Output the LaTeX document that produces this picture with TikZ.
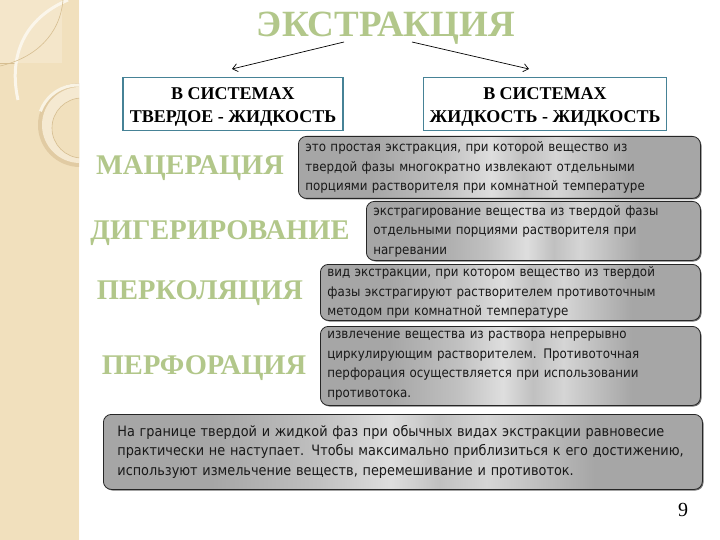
\documentclass[tikz,border=0pt]{standalone}
\usepackage{fontspec}
\setmainfont{Liberation Serif}
\newfontfamily\boxfont{DejaVu Sans Condensed}
\usetikzlibrary{arrows.meta}
\definecolor{tgreen}{RGB}{178,199,138}
\definecolor{band}{RGB}{241,224,189}
\definecolor{bandline}{RGB}{214,190,145}
\definecolor{tealb}{RGB}{70,130,150}
\definecolor{gedge}{RGB}{166,166,166}
\definecolor{gmid}{RGB}{192,192,192}
\definecolor{glight}{RGB}{222,222,222}
\pgfdeclarehorizontalshading{metal}{100bp}{color(0bp)=(gedge); color(25bp)=(gedge); color(34bp)=(gedge); color(43bp)=(gmid); color(49bp)=(glight); color(53bp)=(gmid); color(57bp)=(glight!70!gmid); color(66bp)=(gedge); color(75bp)=(gedge); color(100bp)=(gedge)}
\tikzset{
  ttl/.style={font=\bfseries\fontsize{28.5}{30}\selectfont, text=tgreen, inner sep=0pt},
  sysbox/.style={draw=tealb, line width=1.3pt, fill=white, inner sep=0pt, minimum height=53pt},
  systext/.style={align=center, inner sep=0pt, font=\bfseries\fontsize{18}{23}\selectfont},
  gshadow/.style={fill=black!55, rounded corners=8pt},
  gbox/.style={draw=black!85, line width=0.8pt, rounded corners=8pt, shading=metal,
     align=left, inner sep=0pt, anchor=north west,
     font=\boxfont\fontsize{13.2}{19.5}\selectfont, text=black!90},
  arr/.style={-{Straight Barb[length=5pt,width=8pt]}, line width=0.7pt}
}
\begin{document}
\begin{tikzpicture}[x=1pt,y=1pt]
\useasboundingbox (0,0) rectangle (720,-540);
\fill[white] (0,0) rectangle (720,-540);
% left band
\begin{scope}
\clip (0,0) rectangle (79,-540);
\fill[band] (0,0) rectangle (79,-540);
\fill[band!80!white] (0,0) rectangle (62,-63);
\draw[bandline, line width=0.6pt] (0,-63) -- (15,-63);
\draw[white!70!band, line width=3pt] (68,0) .. controls (25,-18) and (8,-55) .. (18,-100);
\draw[bandline, line width=0.6pt] (63,0) .. controls (60,-35) and (35,-58) .. (0,-66);
\fill[bandline!60!band] (80,-125) circle (42);
\fill[band!70!white] (80,-125) circle (38);
\fill[band] (82,-128) circle (30);
\draw[white!60!band, line width=3pt] (78,-125) ++(160:40) arc (160:60:40);
\draw[bandline, line width=0.6pt] (82,-128) circle (30);
\draw[white!70!band, line width=1pt] (79,0) -- (79,-540);
\end{scope}
% title
\node[font=\bfseries\fontsize{37}{40}\selectfont, text=tgreen, inner sep=0pt] (title) at (386,-28) {ЭКСТРАКЦИЯ};
\node[sysbox, minimum width=220pt] (sl) at (233,-104) {};
\node[systext] (slt) at ([yshift=-3pt]sl.center) {В СИСТЕМАХ\\ТВЕРДОЕ - ЖИДКОСТЬ};
\node[sysbox, minimum width=243pt] (sr) at (545,-104) {};
\node[systext] (srt) at ([yshift=-3pt]sr.center) {В СИСТЕМАХ\\ЖИДКОСТЬ - ЖИДКОСТЬ};
\coordinate (t1) at (344,-42);
\coordinate (t2) at (412,-42);
\coordinate (e1) at (232,-69);
\coordinate (e2) at (529,-69);
\draw[arr] (t1) -- (e1);
\draw[arr] (t2) -- (e2);
% labels
\node[ttl] (l1) at (190,-168) {МАЦЕРАЦИЯ};
\node[ttl] (l2) at (220,-233) {ДИГЕРИРОВАНИЕ};
\node[ttl] (l3) at (200,-293) {ПЕРКОЛЯЦИЯ};
\node[ttl] (l4) at (204,-368) {ПЕРФОРАЦИЯ};
% shadows
\fill[gshadow] (299.5,-137.5) rectangle (701.5,-199.5);
\fill[gshadow] (367.5,-202.5) rectangle (701.5,-261.5);
\fill[gshadow] (321.5,-265.5) rectangle (701.5,-321.5);
\fill[gshadow] (321.5,-327.5) rectangle (701.5,-406.5);
\fill[gshadow] (104.5,-415.5) rectangle (703.5,-490.5);
% gray boxes
\node[gbox, minimum width=402pt, minimum height=62pt, text width=388pt] (b1) at (298,-136)
 {это простая экстракция, при которой вещество из\\твердой фазы многократно извлекают отдельными\\порциями растворителя при комнатной температуре};
\node[gbox, minimum width=334pt, minimum height=59pt, text width=320pt] (b2) at (366,-201)
 {экстрагирование вещества из твердой фазы\\отдельными порциями растворителя при\\нагревании};
\node[gbox, minimum width=380pt, minimum height=56pt, text width=366pt] (b3) at (320,-264)
 {вид экстракции, при котором вещество из твердой\\фазы экстрагируют растворителем противоточным\\методом при комнатной температуре};
\node[gbox, minimum width=380pt, minimum height=79pt, text width=366pt] (b4) at (320,-326)
 {извлечение вещества из раствора непрерывно\\циркулирующим растворителем. Противоточная\\перфорация осуществляется при использовании\\противотока.};
\node[gbox, minimum width=599pt, minimum height=75pt, text width=571pt, font=\boxfont\fontsize{14.3}{19.5}\selectfont] (b5) at (103,-414)
 {На границе твердой и жидкой фаз при обычных видах экстракции равновесие\\практически не наступает. Чтобы максимально приблизиться к его достижению,\\используют измельчение веществ, перемешивание и противоток.};
\node[font=\fontsize{20}{22}\selectfont, inner sep=0pt] (pg) at (683,-510) {9};
\end{tikzpicture}
\end{document}
